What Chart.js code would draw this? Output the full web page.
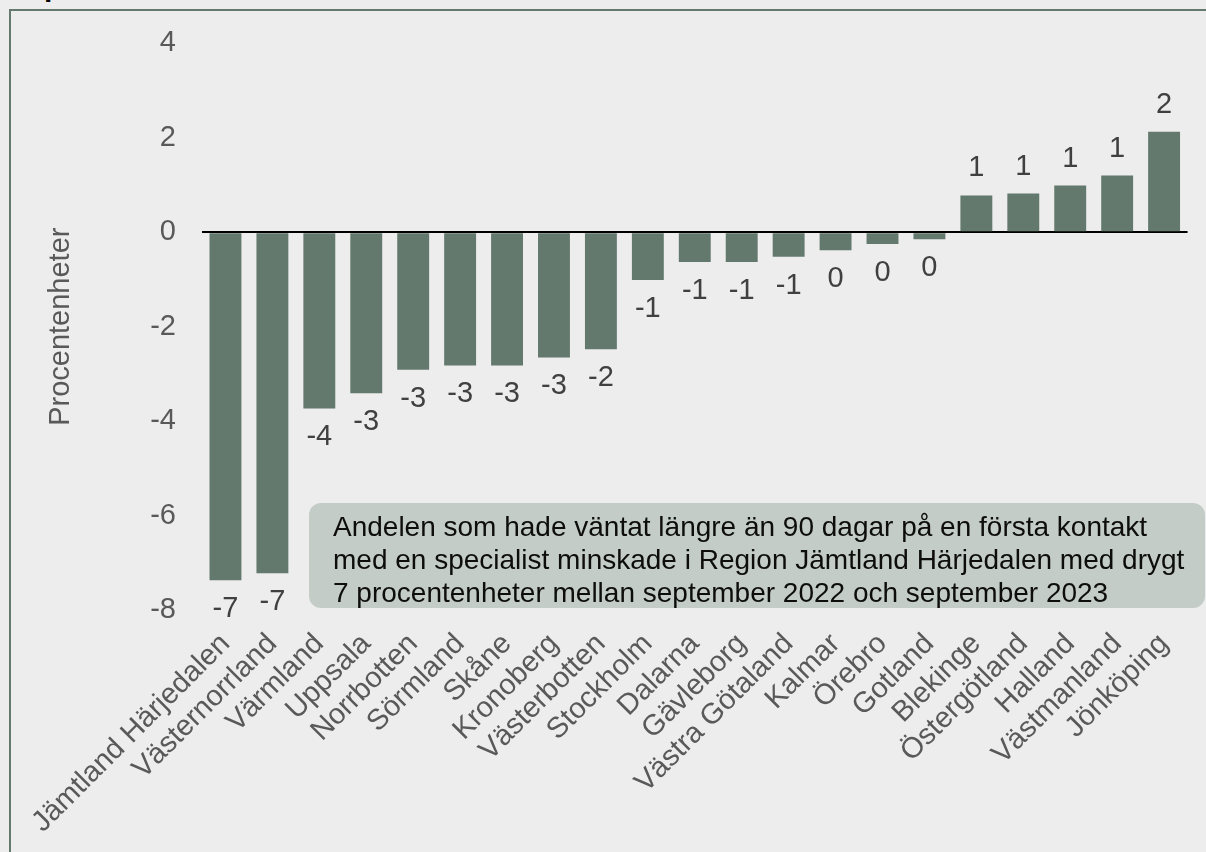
<!DOCTYPE html>
<html>
<head>
<meta charset="utf-8">
<script src="https://cdn.jsdelivr.net/npm/chart.js"></script>
<style>
    html, body { margin: 0; padding: 0; background: #ededed; overflow: hidden; }
    #wrap { position: relative; width: 1206px; height: 852px; }
    #ram { position: absolute; left: 9px; top: 9px; width: 1220px; height: 870px; border: 2px solid #647a6f; box-sizing: border-box; }
    canvas { position: absolute; left: 0; top: 0; }
    #rubrik { position: absolute; left: 44px; top: -29px; font: bold 30px "Liberation Sans", Arial, sans-serif; line-height: 30px; color: #000; }
    #notis {
        position: absolute; left: 309px; top: 503px; width: 896px; height: 105px;
        background: #c3ccc6; border-radius: 12px; box-sizing: border-box;
        padding: 7px 0 0 24px; white-space: nowrap;
        font: 28px "Liberation Sans", Arial, sans-serif; line-height: 33px; color: #0d0d0d;
    }
</style>
</head>
<body>
<div id="wrap">
    <div id="rubrik">p</div>
    <div id="ram"></div>
    <canvas id="diagram" width="1206" height="852"></canvas>
    <div id="notis">Andelen som hade väntat längre än 90 dagar på en första kontakt<br>med en specialist minskade i Region Jämtland Härjedalen med drygt<br>7 procentenheter mellan september 2022 och september 2023</div>
</div>
<script>
const regioner = [
    'Jämtland Härjedalen', 'Västernorrland', 'Värmland', 'Uppsala', 'Norrbotten',
    'Sörmland', 'Skåne', 'Kronoberg', 'Västerbotten', 'Stockholm', 'Dalarna',
    'Gävleborg', 'Västra Götaland', 'Kalmar', 'Örebro', 'Gotland', 'Blekinge',
    'Östergötland', 'Halland', 'Västmanland', 'Jönköping'
];
const forandring = [
    -7.37, -7.22, -3.73, -3.41, -2.91,
    -2.82, -2.82, -2.65, -2.48, -1.01, -0.63,
    -0.63, -0.52, -0.38, -0.25, -0.15, 0.78,
    0.82, 0.99, 1.2, 2.13
];
const yTicks = [-8, -6, -4, -2, 0, 2, 4];

const typsnitt = '"Liberation Sans", Arial, sans-serif';

// värdena ovanför/under staplarna, avrundade till heltal
const stapelEtiketter = {
    id: 'stapelEtiketter',
    afterDatasetsDraw(chart) {
        const ctx = chart.ctx;
        const meta = chart.getDatasetMeta(0);
        ctx.save();
        ctx.font = '29px ' + typsnitt;
        ctx.fillStyle = '#404040';
        ctx.textAlign = 'center';
        ctx.textBaseline = 'alphabetic';
        meta.data.forEach(function (bar, i) {
            const v = forandring[i];
            const txt = String(Math.round(v) || 0);
            const y = v >= 0 ? bar.y - 19 : bar.y + 37;
            ctx.fillText(txt, bar.x, y);
        });
        ctx.restore();
    }
};

new Chart(document.getElementById('diagram').getContext('2d'), {
    type: 'bar',
    data: {
        labels: regioner,
        datasets: [{
            data: forandring,
            backgroundColor: '#64796e',
            borderWidth: 0,
            barPercentage: 0.68,
            categoryPercentage: 1
        }]
    },
    options: {
        responsive: false,
        animation: false,
        layout: { padding: { left: 44, top: 40, right: 13, bottom: 0 } },
        plugins: {
            legend: { display: false },
            tooltip: { enabled: false }
        },
        scales: {
            x: {
                grid: { display: false, drawTicks: false },
                border: { display: false },
                afterFit: function (scale) { scale.height = 242; },
                ticks: {
                    autoSkip: false,
                    minRotation: 45,
                    maxRotation: 45,
                    padding: 17,
                    color: '#595959',
                    font: { family: typsnitt, size: 29 }
                }
            },
            y: {
                min: -8,
                max: 4,
                afterBuildTicks: function (scale) {
                    scale.ticks = yTicks.map(v => ({ value: v }));
                },
                afterFit: function (scale) { scale.width = 158; },
                grid: {
                    drawTicks: false,
                    color: ctx => ctx.tick && ctx.tick.value === 0 ? '#000000' : 'rgba(0,0,0,0)',
                    lineWidth: 2
                },
                border: { display: false },
                ticks: {
                    padding: 26,
                    color: '#595959',
                    font: { family: typsnitt, size: 29 }
                },
                title: {
                    display: true,
                    text: 'Procentenheter',
                    color: '#595959',
                    padding: 0,
                    font: { family: typsnitt, size: 29 }
                }
            }
        }
    },
    plugins: [stapelEtiketter]
});
</script>
</body>
</html>
